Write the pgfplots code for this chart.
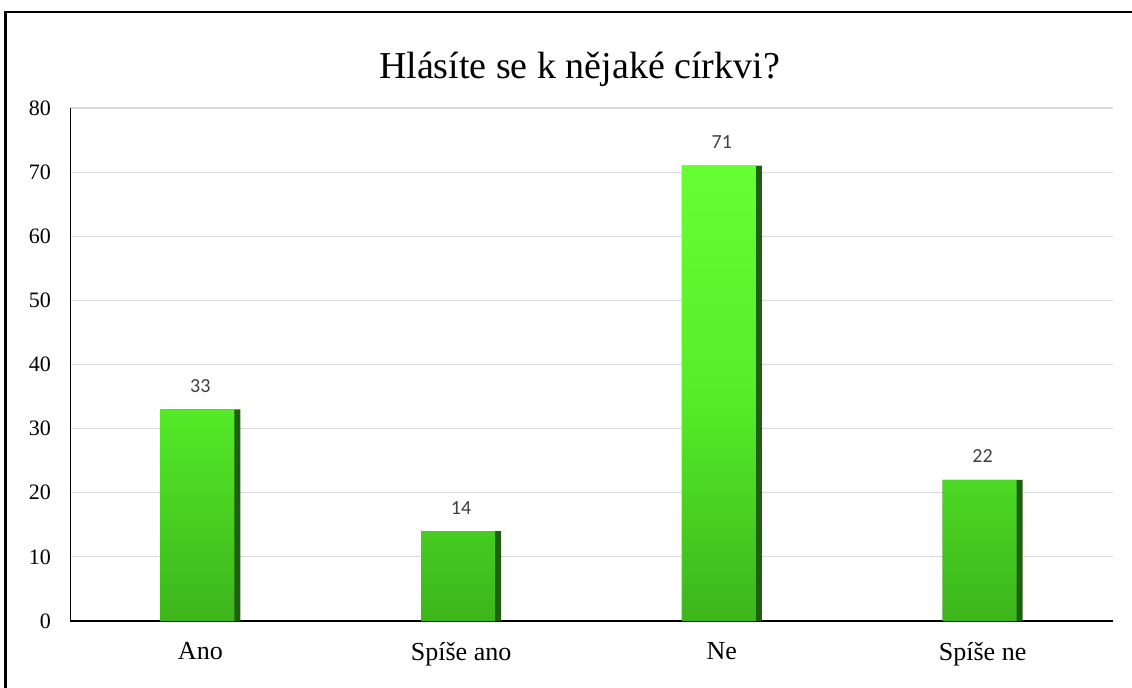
\documentclass[border=0pt]{standalone}
\usepackage{pgfplots}
\pgfplotsset{compat=1.18}
\usepackage{fontspec}
\setmainfont{Liberation Serif}
\newfontfamily\lblfont{Carlito}

\definecolor{gridgray}{HTML}{D9D9D9}
\definecolor{lbl}{HTML}{404040}
\definecolor{bartop}{HTML}{66FF33}
\definecolor{barmid}{HTML}{55EE28}
\definecolor{barbot}{HTML}{3DB51C}
\definecolor{baredge}{HTML}{1E6010}

\begin{document}
\begin{tikzpicture}
% 1 px = 0.5pt; axis origin at px (70,621)
\useasboundingbox (-35pt,-33pt) rectangle (531pt,310.5pt);
\draw[line width=1.3pt] (-32.2pt,-40pt) -- (-32.2pt,304.5pt) -- (540pt,304.5pt);

\begin{axis}[
  at={(0,0)}, anchor=south west,
  scale only axis,
  width=521.5pt, height=256.5pt,
  ybar, bar width=40pt,
  xmin=-0.5, xmax=3.5,
  ymin=0, ymax=80,
  ytick={0,10,...,80},
  xtick=data,
  xticklabels={Ano, Spíše ano, Ne, Spíše ne},
  x tick label style={font=\fontsize{13}{15}\selectfont, yshift=-7pt},
  y tick label style={font=\fontsize{11}{13}\selectfont, xshift=-6pt},
  /pgf/number format/assume math mode=true,
  ymajorgrids, grid style={gridgray, line width=0.6pt},
  axis x line*=bottom, axis y line*=left,
  x axis line style={black, line width=0.8pt, -},
  y axis line style={black, line width=0.4pt, -},
  major tick length=0pt,
  title={Hlásíte se k nějaké církvi?},
  title style={font=\fontsize{19}{22}\selectfont, yshift=1pt, xshift=-6pt},
  every node near coord/.append style={font=\lblfont\fontsize{10}{12}\selectfont, color=lbl, yshift=5pt},
  clip=false,
]
\addplot[bar shift=0pt, fill=baredge, draw=none] coordinates {(0,33) (1,14) (2,71) (3,22)};
\addplot[bar shift=-1.5pt, bar width=37pt, draw=none, top color=bartop, bottom color=barbot, middle color=barmid,
  nodes near coords, every node near coord/.append style={xshift=1.5pt}] coordinates {(0,33) (1,14) (2,71) (3,22)};
\end{axis}
\end{tikzpicture}
\end{document}
